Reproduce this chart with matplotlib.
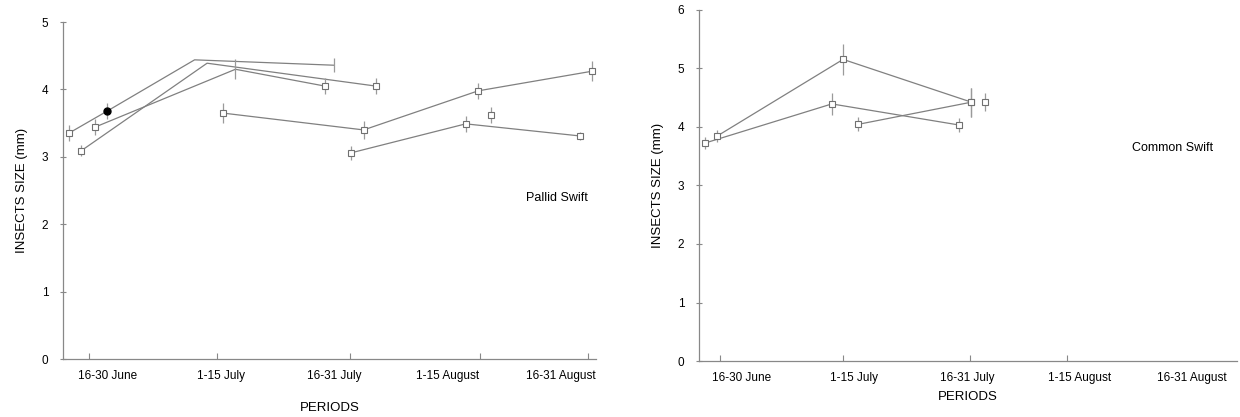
import numpy as np
import matplotlib.pyplot as plt

plt.rcParams['font.family'] = ['Liberation Sans', 'DejaVu Sans']

periods = ['16-30 June', '1-15 July', '16-31 July', '1-15 August', '16-31 August']
# tick marks on the scanned x axes do not sit under the labels
ticks_left = [-0.16, 0.97, 2.14, 3.29, 4.24]
ticks_right = [-0.19, 0.90, 2.03, 2.89]

# Pallid Swift: x = period index (with offsets as drawn), y = mean size, err = error bar
pallid = [
    dict(x=[-0.34, 0.0, 0.77, 2.0], y=[3.35, 3.68, 4.44, 4.36], err=[0.12, 0.12, 0.0, 0.1],
         mark=['o', 'f', '', '']),
    dict(x=[-0.23, 0.88, 2.37], y=[3.09, 4.39, 4.05], err=[0.08, 0.0, 0.12],
         mark=['o', '', 'o']),
    dict(x=[-0.11, 1.13, 1.92], y=[3.44, 4.30, 4.05], err=[0.12, 0.15, 0.12],
         mark=['o', '', 'o']),
    dict(x=[1.02, 2.26, 3.27, 4.27], y=[3.65, 3.40, 3.98, 4.27], err=[0.15, 0.13, 0.12, 0.15],
         mark=['o', 'o', 'o', 'o']),
    dict(x=[2.15, 3.16, 4.17], y=[3.06, 3.49, 3.31], err=[0.1, 0.12, 0.06],
         mark=['o', 'o', 'o']),
    dict(x=[3.38], y=[3.62], err=[0.12], mark=['o']),
]

# Common Swift
common = [
    dict(x=[-0.22, 0.90, 2.04], y=[3.84, 5.15, 4.42], err=[0.1, 0.27, 0.25],
         mark=['o', 'o', 'o']),
    dict(x=[-0.33, 0.80, 1.93], y=[3.72, 4.39, 4.03], err=[0.1, 0.19, 0.12],
         mark=['o', 'o', 'o']),
    dict(x=[1.03, 2.04], y=[4.04, 4.42], err=[0.12, 0.25], mark=['o', 'o']),
    dict(x=[2.16], y=[4.42], err=[0.15], mark=['o']),
]

line_c = '#808080'
err_c = '#9a9a9a'


def draw(ax, series):
    for s in series:
        ax.plot(s['x'], s['y'], color=line_c, lw=0.9, zorder=2)
        for xi, yi, ei, m in zip(s['x'], s['y'], s['err'], s['mark']):
            if ei > 0:
                ax.errorbar(xi, yi, yerr=ei, fmt='none', ecolor=err_c, elinewidth=0.9, capsize=0, zorder=3)
            if m == 'o':
                ax.plot(xi, yi, marker='s', ms=4.5, mfc='white', mec='#707070', mew=0.8, zorder=4)
            elif m == 'f':
                ax.plot(xi, yi, marker='o', ms=5, mfc='black', mec='black', zorder=4)


def style(ax, ymax, tick_pos):
    for sp in ['top', 'right']:
        ax.spines[sp].set_visible(False)
    for sp in ['left', 'bottom']:
        ax.spines[sp].set_color('#888888')
        ax.spines[sp].set_linewidth(0.9)
    ax.set_ylim(0, ymax)
    ax.set_yticks(np.arange(0, ymax + 1))
    ax.set_xticks(tick_pos)
    ax.set_xticklabels([])
    ax.set_xticks(range(len(periods)), minor=True)
    ax.set_xticklabels(periods, minor=True, fontsize=8.5)
    ax.tick_params(axis='y', direction='inout', length=5, color='#888888', labelsize=8.5, pad=8)
    ax.tick_params(axis='x', which='major', direction='in', length=4, color='#888888')
    ax.tick_params(axis='x', which='minor', length=0, pad=8)
    ax.set_ylabel('INSECTS SIZE (mm)', fontsize=9.5, labelpad=10)


fig = plt.figure(figsize=(12.4, 4.17), dpi=100)

ax1 = fig.add_axes([0.0508, 0.139, 0.430, 0.808])
draw(ax1, pallid)
style(ax1, 5, ticks_left)
ax1.set_xlim(-0.39, 4.31)
ax1.set_xlabel('PERIODS', fontsize=9.5, labelpad=14)
ax1.text(3.96, 2.39, 'Pallid Swift', fontsize=9, ha='center', va='center')

ax2 = fig.add_axes([0.5637, 0.134, 0.434, 0.843])
draw(ax2, common)
style(ax2, 6, ticks_right)
ax2.set_xlim(-0.38, 4.4)
ax2.set_xlabel('PERIODS', fontsize=9.5, labelpad=5)
ax2.text(3.83, 3.63, 'Common Swift', fontsize=9, ha='center', va='center')

fig.savefig('out.png', dpi=100)
